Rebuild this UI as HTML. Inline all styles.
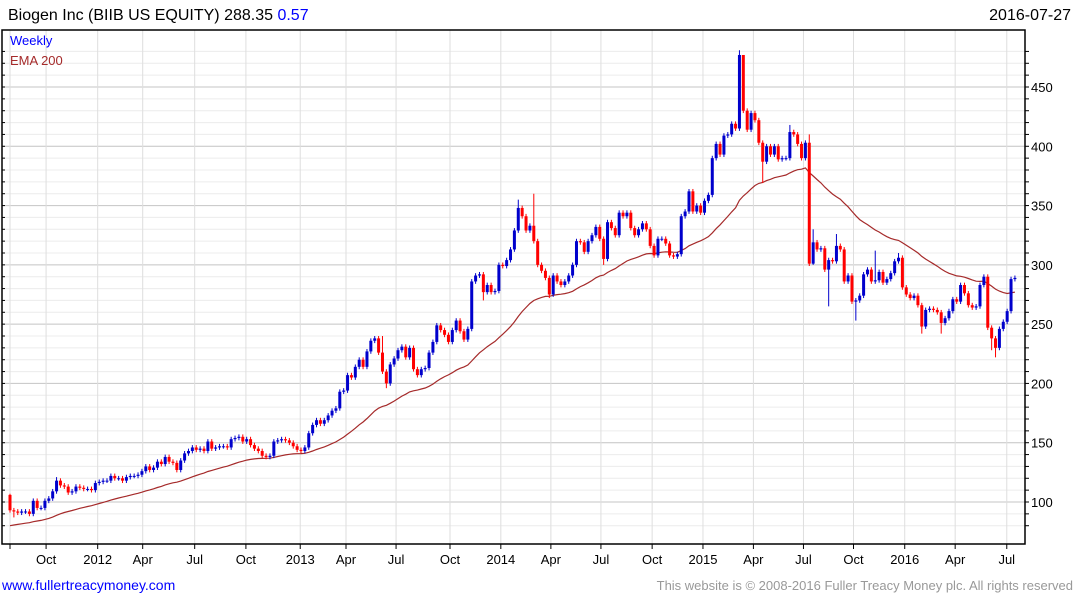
<!DOCTYPE html>
<html><head><meta charset="utf-8"><style>
body{margin:0;background:#fff;width:1075px;height:600px;overflow:hidden;font-family:"Liberation Sans",sans-serif}
svg{display:block}
</style></head><body>
<svg id="chart" width="1075" height="600" xmlns="http://www.w3.org/2000/svg" font-family="Liberation Sans, sans-serif">
<text x="8" y="20" font-size="16" fill="#000">Biogen Inc (BIIB US EQUITY) 288.35 <tspan fill="#0000ff">0.57</tspan></text>
<text x="1071" y="20" font-size="16" fill="#000" text-anchor="end">2016-07-27</text>
<g id="grid"></g>
<g id="ema"></g>
<g id="candles"></g>
<g id="axes"></g>
<text x="10" y="45" font-size="13" fill="#0000ff">Weekly</text>
<text x="10" y="65" font-size="13" fill="#a52a2a">EMA 200</text>
<text x="2" y="590" font-size="14" fill="#0000ff">www.fullertreacymoney.com</text>
<text x="1073" y="590" font-size="13" fill="#999" text-anchor="end">This website is © 2008-2016 Fuller Treacy Money plc. All rights reserved</text>
</svg>
<script>
const closes=[93,92,91,92,92,90,101,95,95,101,103,109,118,114,113,108,109,113,112,111,111,110,116,117,118,118,122,120,120,118,121,122,122,123,126,130,127,129,134,132,138,134,133,127,135,141,143,146,144,145,143,151,145,146,147,147,146,153,154,155,151,153,148,145,143,139,138,139,151,152,153,152,150,147,144,143,146,158,165,169,166,169,173,177,179,193,194,207,205,214,220,214,227,236,238,226,210,200,216,221,228,231,222,230,212,207,212,213,226,235,249,245,241,235,245,253,244,237,246,286,291,292,277,283,277,278,300,299,304,313,329,348,341,329,333,320,300,295,289,275,291,286,283,286,291,300,320,319,311,320,325,332,322,305,336,331,325,344,341,344,331,325,330,335,330,316,308,322,322,318,308,307,309,341,345,362,345,350,344,354,359,390,402,393,409,410,419,415,477,430,414,428,422,403,387,400,393,400,389,390,390,412,410,402,390,403,301,319,313,314,296,304,303,316,313,286,291,269,270,274,292,296,286,287,294,285,288,293,303,306,281,275,272,274,266,248,262,263,262,260,251,255,261,271,269,283,276,266,264,265,283,290,247,238,230,246,252,261,288,289];
const firstOpen=106;
const highOverrides={0:107,12:121,96:240,131:355,135:360,188:481,189:470,201:418,206:410,207:330,213:326,223:312,229:310,251:292};
const lowOverrides={1:87,97:196,122:270,139:272,153:300,194:369,207:300,211:265,218:253,235:242,240:242,253:228,254:222};
const yTicks=[100,150,200,250,300,350,400,450];
const xTickLabels=["","Oct","2012","Apr","Jul","Oct","2013","Apr","Jul","Oct","2014","Apr","Jul","Oct","2015","Apr","Jul","Oct","2016","Apr","Jul"];
const xTickWeeks=[0,9.3,22.6,34.2,47.6,60.8,74.8,86.6,99.5,113.4,126.5,139.4,152.3,165.5,178.6,191.6,204.5,217.4,230.6,243.6,256.9];
const emaSeed=80, emaPeriod=40;

const NS="http://www.w3.org/2000/svg";
const L=2,R=1025,T=30,B=544;
function xPos(i){return 10+i*3.88;}
function yPos(p){return 502-(p-100)*415/350;}
function mk(tag,attrs,parent){const e=document.createElementNS(NS,tag);for(const k in attrs)e.setAttribute(k,attrs[k]);parent.appendChild(e);return e;}
const grid=document.getElementById('grid'),axes=document.getElementById('axes'),cg=document.getElementById('candles'),eg=document.getElementById('ema');
// horizontal grid
for(let p=80;p<=480;p+=10){const y=yPos(p);if(y<T||y>B)continue;
 const major=p%50===0;
 const ln=mk('line',{x1:L,x2:R,y1:y,y2:y,stroke:major?'#c4c4c4':'#ececec','stroke-width':1},grid);
 
 
 const tk=mk('line',{x1:R,x2:R+4,y1:y,y2:y,stroke:'#000'},axes);
 
 
 const tl=mk('line',{x1:L,x2:L+3,y1:y,y2:y,stroke:'#000'},axes);
 
 
}
yTicks.forEach(v=>{const t=mk('text',{x:R+6,y:yPos(v)+5,'font-size':13,fill:'#000'},axes);t.textContent=v;
 
 });
// vertical grid
xTickWeeks.forEach((w,k)=>{const x=xPos(w);
 const g=mk('line',{x1:x,x2:x,y1:T,y2:B,stroke:'#dedede'},grid);
 
 
 const tk=mk('line',{x1:x,x2:x,y1:B,y2:B+5,stroke:'#000'},axes);
 
 
 if(xTickLabels[k]){const t=mk('text',{x:x,y:B+20,'font-size':13,fill:'#000','text-anchor':'middle'},axes);t.textContent=xTickLabels[k];
 
 }
});
// frame
const fr=mk('path',{d:`M${L} ${T}H${R}V${B}H${L}Z`,fill:'none',stroke:'#000','stroke-width':1.5},axes);


// EMA
let ema=emaSeed;const a=2/(emaPeriod+1);let pts=[];
closes.forEach((c,i)=>{if(i>0)ema=ema+a*(c-ema);pts.push(xPos(i).toFixed(1)+','+yPos(ema).toFixed(1));});
const pl=mk('polyline',{points:pts.join(' '),fill:'none',stroke:'#a52a2a','stroke-width':1.2},eg);


// candles
closes.forEach((c,i)=>{const o=i===0?firstOpen:closes[i-1];
 const up=c>=o;const col=up?'#0000cc':'#ff0000';
 const hi=highOverrides[i]!==undefined?highOverrides[i]:Math.max(o,c)+2;
 const lo=lowOverrides[i]!==undefined?lowOverrides[i]:Math.min(o,c)-2;
 const x=xPos(i);
 const g=mk('g',{},cg);
 
 
 mk('line',{x1:x,x2:x,y1:yPos(hi),y2:yPos(lo),stroke:col,'stroke-width':1},g);
 const yt=yPos(Math.max(o,c)),yb=yPos(Math.min(o,c));
 mk('rect',{x:x-1.5,y:yt,width:3,height:Math.max(1,yb-yt),fill:col},g);
});
</script>
</body></html>
